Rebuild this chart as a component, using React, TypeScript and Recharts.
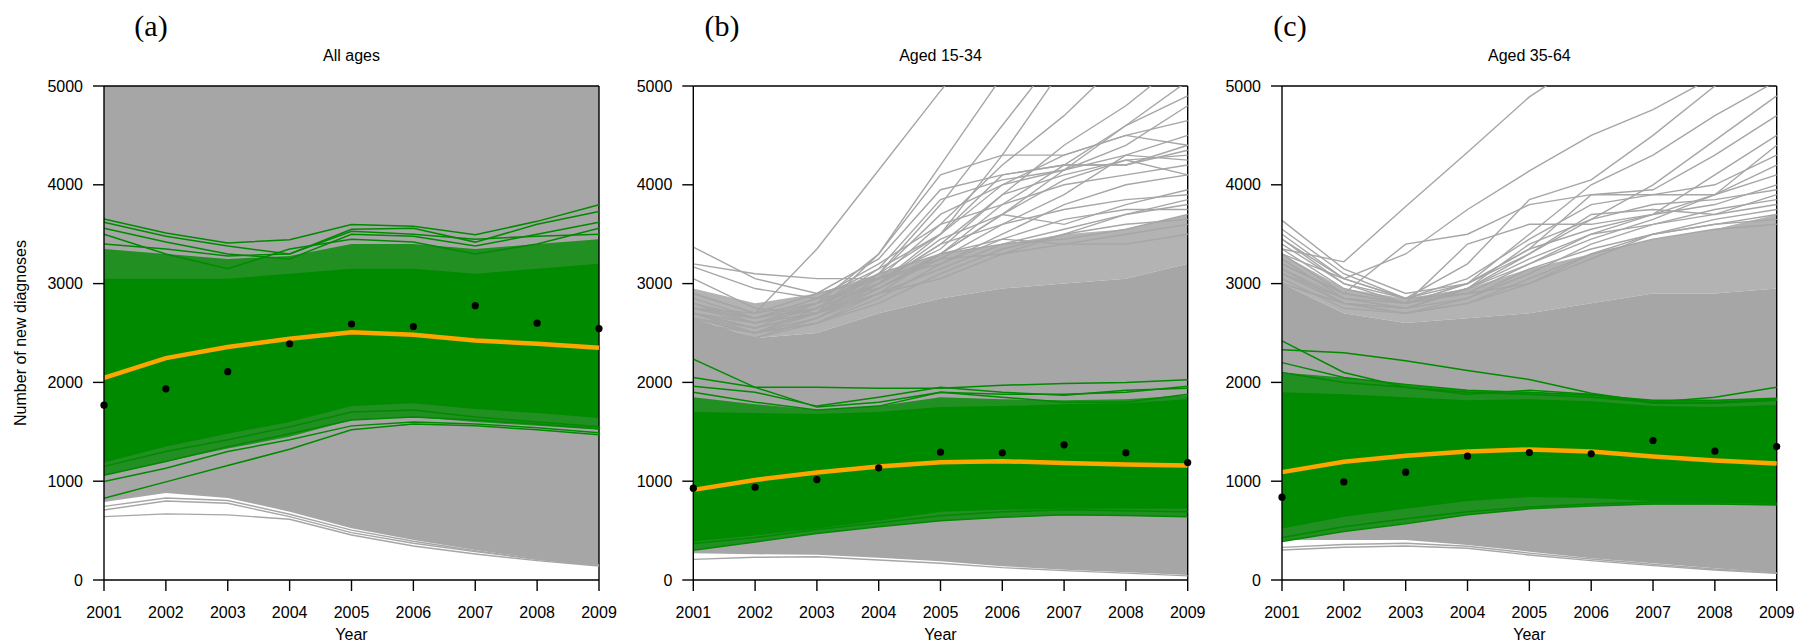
import { Area, ComposedChart, Line, ReferenceLine, XAxis, YAxis } from 'recharts'

const years = [2001, 2002, 2003, 2004, 2005, 2006, 2007, 2008, 2009]
const yTicks = [0, 1000, 2000, 3000, 4000, 5000]

// (a) All ages
const aMean = [2045, 2246, 2358, 2441, 2507, 2482, 2424, 2391, 2350]
const aObserved = [1769, 1935, 2109, 2391, 2591, 2566, 2777, 2599, 2545]
const aGrayLow = [790, 880, 830, 692, 524, 405, 304, 215, 150]
const aGrayHigh = [5000, 5000, 5000, 5000, 5000, 5000, 5000, 5000, 5000]
const aGreenMixLow = [1060, 1200, 1330, 1450, 1620, 1650, 1600, 1560, 1520]
const aGreenMixHigh = [3350, 3300, 3250, 3280, 3400, 3400, 3350, 3400, 3450]
const aGreenLow = [1190, 1350, 1480, 1600, 1760, 1790, 1730, 1690, 1640]
const aGreenHigh = [3050, 3050, 3050, 3100, 3150, 3150, 3100, 3150, 3200]
const aGrayLines = [
  [641, 669, 659, 615, 456, 344, 263, 196, 142],
  [709, 800, 777, 641, 480, 372, 287, 210, 148],
  [745, 830, 805, 665, 505, 392, 296, 213, 150],
]
const aGreenLines = [
  [3654, 3512, 3411, 3445, 3597, 3580, 3495, 3630, 3799],
  [3620, 3480, 3380, 3300, 3550, 3560, 3420, 3600, 3730],
  [3560, 3420, 3300, 3250, 3500, 3480, 3380, 3500, 3620],
  [3500, 3300, 3150, 3350, 3450, 3420, 3300, 3400, 3560],
  [3400, 3350, 3280, 3300, 3530, 3500, 3450, 3480, 3500],
  [828, 993, 1158, 1324, 1520, 1580, 1560, 1520, 1470],
  [996, 1131, 1300, 1420, 1560, 1600, 1580, 1540, 1490],
  [1060, 1200, 1350, 1480, 1620, 1650, 1620, 1580, 1530],
  [1150, 1300, 1420, 1550, 1700, 1720, 1650, 1600, 1550],
]

// (b) Aged 15-34
const bMean = [912, 1013, 1087, 1148, 1192, 1202, 1185, 1168, 1158]
const bObserved = [929, 939, 1016, 1135, 1294, 1287, 1368, 1287, 1189]
const bGrayLow = [270, 260, 255, 225, 190, 140, 105, 78, 50]
const bGrayHigh = [2650, 2450, 2500, 2700, 2850, 2950, 3000, 3050, 3200]
const bGrayMixHigh = [2950, 2800, 2900, 3100, 3300, 3400, 3500, 3550, 3700]
const bGreenMixLow = [300, 385, 470, 540, 600, 635, 655, 650, 640]
const bGreenMixHigh = [1850, 1780, 1720, 1760, 1850, 1830, 1820, 1830, 1870]
const bGreenLow = [390, 450, 520, 600, 690, 710, 720, 720, 720]
const bGreenHigh = [1700, 1690, 1680, 1700, 1750, 1760, 1780, 1790, 1830]
const bGrayLines = [
  [209, 230, 236, 203, 170, 125, 95, 70, 42],
  [2750, 2700, 3350, 4150, 4950, 5700, 6400, 7100, 7800],
  [2800, 2600, 2700, 3300, 4200, 5100, 6000, 6800, 7500],
  [2650, 2500, 2750, 3100, 3800, 4600, 5400, 6100, 6800],
  [2600, 2450, 2650, 3000, 3500, 4300, 5200, 5900, 6500],
  [2700, 2550, 2700, 3050, 3600, 4200, 4700, 5300, 5800],
  [2700, 2600, 2750, 3000, 3400, 3900, 4400, 4800, 5300],
  [2650, 2500, 2650, 2950, 3300, 3700, 4150, 4600, 5050],
  [2650, 2500, 2600, 2900, 3300, 3800, 4200, 4600, 4900],
  [2750, 2600, 2800, 3300, 4100, 4300, 4300, 4500, 4650],
  [2600, 2500, 2700, 3100, 3500, 4100, 4200, 4200, 4400],
  [2800, 2650, 2850, 3200, 3600, 3800, 4000, 4100, 4200],
  [2700, 2550, 2800, 3100, 3300, 3700, 3600, 3800, 3950],
  [3370, 3050, 2900, 3050, 3250, 3300, 3500, 3700, 3800],
  [3200, 3100, 3050, 3050, 3200, 3450, 3400, 3500, 3600],
  [3170, 2950, 2850, 2950, 3300, 3400, 3450, 3550, 3700],
  [3050, 2750, 2700, 2900, 3050, 3300, 3400, 3400, 3500],
  [2900, 2700, 2800, 3000, 3400, 3600, 3900, 4300, 4500],
  [2850, 2650, 2750, 3150, 3850, 4050, 4150, 4400, 4800],
  [2700, 2600, 2750, 3100, 3700, 4000, 4300, 4500, 4400],
  [2750, 2650, 2800, 3050, 3350, 3900, 4100, 4250, 4300],
  [2600, 2450, 2600, 2850, 3200, 3500, 3800, 4000, 4100],
  [2650, 2550, 2700, 2950, 3250, 3600, 3750, 3850, 3900],
  [2700, 2500, 2650, 2900, 3150, 3400, 3550, 3700, 3850],
  [2800, 2600, 2750, 3000, 3300, 3450, 3650, 3750, 3750],
  [2650, 2500, 2600, 2800, 3100, 3350, 3500, 3600, 3650],
  [2750, 2650, 2850, 3150, 3500, 4000, 4150, 4300, 4250],
  [2700, 2550, 2700, 3000, 3450, 3700, 4050, 4250, 4100],
  [2900, 2700, 2900, 3250, 3950, 4100, 4200, 4200, 4350],
]
const bGreenLines = [
  [2236, 1950, 1750, 1800, 1900, 1880, 1880, 1900, 1960],
  [2050, 1950, 1950, 1940, 1940, 1970, 1990, 2000, 2026],
  [1960, 1900, 1760, 1850, 1950, 1900, 1870, 1920, 1942],
  [1900, 1800, 1720, 1760, 1900, 1850, 1800, 1800, 1880],
  [300, 385, 470, 540, 600, 635, 660, 652, 641],
  [370, 430, 510, 580, 650, 690, 710, 700, 690],
]

// (c) Aged 35-64
const cMean = [1092, 1196, 1258, 1300, 1321, 1300, 1250, 1209, 1180]
const cObserved = [838, 993, 1091, 1253, 1290, 1277, 1412, 1304, 1351]
const cGrayLow = [405, 405, 405, 355, 287, 220, 169, 118, 74]
const cGrayHigh = [3000, 2700, 2600, 2650, 2700, 2800, 2900, 2900, 2950]
const cGrayMixHigh = [3300, 2950, 2850, 2950, 3150, 3300, 3450, 3550, 3700]
const cGreenMixLow = [390, 490, 575, 660, 720, 750, 765, 765, 760]
const cGreenMixHigh = [2100, 2050, 1980, 1920, 1900, 1880, 1820, 1820, 1840]
const cGreenLow = [520, 640, 720, 800, 840, 830, 800, 790, 770]
const cGreenHigh = [1900, 1880, 1850, 1820, 1830, 1810, 1760, 1750, 1770]
const cGrayLines = [
  [304, 331, 344, 321, 253, 196, 145, 101, 68],
  [330, 360, 372, 342, 272, 212, 160, 112, 72],
  [3350, 3220, 3780, 4330, 4890, 5300, 5600, 5900, 6200],
  [3300, 3050, 3300, 3750, 4140, 4500, 4760, 5100, 5400],
  [3500, 3050, 2850, 3200, 3850, 4050, 4500, 5000, 5300],
  [3200, 2900, 2800, 3000, 3500, 4000, 4300, 4700, 5050],
  [3100, 2800, 2750, 2950, 3300, 3650, 4000, 4450, 4900],
  [3640, 3150, 2900, 3000, 3350, 3900, 3950, 4300, 4700],
  [3450, 3000, 2800, 3400, 3600, 3600, 3700, 4100, 4500],
  [3300, 2900, 3400, 3500, 3800, 3900, 3900, 3900, 4100],
  [3100, 2850, 2800, 2900, 3200, 3500, 3700, 3800, 4000],
  [3000, 2800, 2750, 2850, 3100, 3400, 3600, 3700, 3900],
  [3400, 3000, 2850, 3000, 3300, 3700, 3750, 3700, 3800],
  [3550, 3100, 2850, 2900, 3000, 3300, 3500, 3600, 3700],
  [3250, 2850, 2750, 2950, 3250, 3500, 3600, 3750, 3850],
  [3150, 2800, 2700, 2850, 3150, 3350, 3500, 3600, 3650],
  [3350, 2950, 2800, 2950, 3400, 3650, 3800, 3850, 3950],
  [3050, 2750, 2700, 2800, 3050, 3300, 3450, 3550, 3600],
  [3200, 2900, 2800, 3000, 3350, 3550, 3700, 3900, 4200],
  [3450, 3050, 2850, 3050, 3450, 3800, 3900, 4000, 4300],
  [3000, 2800, 2700, 2800, 3000, 3250, 3500, 3650, 3750],
  [3150, 2850, 2750, 2950, 3200, 3450, 3650, 3900, 4400],
]
const cGreenLines = [
  [2420, 2100, 1950, 1900, 1880, 1850, 1800, 1800, 1830],
  [2330, 2300, 2220, 2120, 2030, 1890, 1800, 1850, 1950],
  [2200, 2050, 1980, 1920, 1900, 1870, 1820, 1820, 1840],
  [2100, 2000, 1950, 1880, 1920, 1880, 1790, 1790, 1820],
  [390, 490, 570, 660, 720, 750, 770, 770, 760],
  [430, 540, 620, 690, 740, 770, 790, 790, 780],
]

const FONT = '"Liberation Sans", Arial, sans-serif'
const SERIF = '"Liberation Serif", "Times New Roman", serif'
const GRAY = '#a6a6a6'
const GREEN = '#008a00'
const W = 1796
const H = 642
const PLOT_TOP = 86
const PLOT_BOTTOM = 580
const Y_AXIS_W = 60
const X_AXIS_H = 40

interface PanelSpec {
  grayLow: number[]
  grayHigh: number[]
  grayMixHigh?: number[]
  greenMixLow: number[]
  greenMixHigh: number[]
  greenLow: number[]
  greenHigh: number[]
  grayLines: number[][]
  greenLines: number[][]
  mean: number[]
  observed: number[]
}

function buildRows(p: PanelSpec) {
  return years.map((year, i) => {
    const row: Record<string, unknown> = {
      year,
      grayBand: [p.grayLow[i], p.grayHigh[i]],
      greenMix: [p.greenMixLow[i], p.greenMixHigh[i]],
      greenBand: [p.greenLow[i], p.greenHigh[i]],
      mean: p.mean[i],
      observed: p.observed[i],
    }
    if (p.grayMixHigh) row.grayMix = [p.grayHigh[i], p.grayMixHigh[i]]
    p.grayLines.forEach((l, j) => (row[`gray${j}`] = l[i]))
    p.greenLines.forEach((l, j) => (row[`green${j}`] = l[i]))
    return row
  })
}

function Panel({ spec, left, right }: { spec: PanelSpec; left: number; right: number }) {
  const rows = buildRows(spec)
  return (
    <div style={{ position: 'absolute', left: 0, top: 0 }}>
      <ComposedChart
        width={W}
        height={H}
        data={rows}
        margin={{ top: PLOT_TOP, bottom: H - PLOT_BOTTOM - X_AXIS_H, left: left - Y_AXIS_W, right: W - right }}
      >
        <XAxis
          type="number"
          dataKey="year"
          domain={[2001, 2009]}
          ticks={years}
          interval={0}
          height={X_AXIS_H}
          tickSize={11}
          tickMargin={16}
          axisLine={{ stroke: '#000', strokeWidth: 1.4 }}
          tickLine={{ stroke: '#000', strokeWidth: 1.4 }}
          tick={{ fontSize: 16, fill: '#000', fontFamily: FONT }}
        />
        <YAxis
          type="number"
          domain={[0, 5000]}
          ticks={yTicks}
          interval={0}
          allowDataOverflow
          width={Y_AXIS_W}
          tickSize={11}
          tickMargin={10}
          axisLine={{ stroke: '#000', strokeWidth: 1.4 }}
          tickLine={{ stroke: '#000', strokeWidth: 1.4 }}
          tick={{ fontSize: 16, fill: '#000', fontFamily: FONT }}
        />
        <ReferenceLine y={5000} stroke="#000" strokeWidth={1.4} />
        <ReferenceLine x={2009} stroke="#000" strokeWidth={1.4} />
        <Area dataKey="grayBand" type="linear" stroke="none" fill={GRAY} fillOpacity={1} dot={false} activeDot={false} isAnimationActive={false} />
        {spec.grayMixHigh && (
          <Area dataKey="grayMix" type="linear" stroke="none" fill={GRAY} fillOpacity={0.85} dot={false} activeDot={false} isAnimationActive={false} />
        )}
        {spec.grayLines.map((_, j) => (
          <Line key={`g${j}`} dataKey={`gray${j}`} type="linear" stroke={GRAY} strokeWidth={1.4} dot={false} activeDot={false} isAnimationActive={false} />
        ))}
        <Area dataKey="greenMix" type="linear" stroke="none" fill={GREEN} fillOpacity={0.8} dot={false} activeDot={false} isAnimationActive={false} />
        <Area dataKey="greenBand" type="linear" stroke="none" fill={GREEN} fillOpacity={1} dot={false} activeDot={false} isAnimationActive={false} />
        {spec.greenLines.map((_, j) => (
          <Line key={`gr${j}`} dataKey={`green${j}`} type="linear" stroke={GREEN} strokeWidth={1.5} dot={false} activeDot={false} isAnimationActive={false} />
        ))}
        <Line dataKey="mean" type="linear" stroke="#ffa500" strokeWidth={4.5} dot={false} activeDot={false} isAnimationActive={false} />
        <Line dataKey="observed" stroke="none" dot={{ r: 3.6, fill: '#000', stroke: 'none' }} activeDot={false} isAnimationActive={false} />
      </ComposedChart>
    </div>
  )
}

const text = (left: number, top: number, size: number, family: string): React.CSSProperties => ({
  position: 'absolute',
  left,
  top,
  fontSize: size,
  lineHeight: `${size}px`,
  fontFamily: family,
  whiteSpace: 'nowrap',
  transform: 'translateX(-50%)',
  color: '#000',
})

const panels = [
  {
    letter: '(a)', letterX: 151, title: 'All ages', left: 104, right: 599,
    spec: { grayLow: aGrayLow, grayHigh: aGrayHigh, greenMixLow: aGreenMixLow, greenMixHigh: aGreenMixHigh, greenLow: aGreenLow, greenHigh: aGreenHigh, grayLines: aGrayLines, greenLines: aGreenLines, mean: aMean, observed: aObserved },
  },
  {
    letter: '(b)', letterX: 722, title: 'Aged 15-34', left: 693.3, right: 1187.7,
    spec: { grayLow: bGrayLow, grayHigh: bGrayHigh, grayMixHigh: bGrayMixHigh, greenMixLow: bGreenMixLow, greenMixHigh: bGreenMixHigh, greenLow: bGreenLow, greenHigh: bGreenHigh, grayLines: bGrayLines, greenLines: bGreenLines, mean: bMean, observed: bObserved },
  },
  {
    letter: '(c)', letterX: 1290, title: 'Aged 35-64', left: 1282, right: 1776.7,
    spec: { grayLow: cGrayLow, grayHigh: cGrayHigh, grayMixHigh: cGrayMixHigh, greenMixLow: cGreenMixLow, greenMixHigh: cGreenMixHigh, greenLow: cGreenLow, greenHigh: cGreenHigh, grayLines: cGrayLines, greenLines: cGreenLines, mean: cMean, observed: cObserved },
  },
]

export default function App() {
  return (
    <div style={{ position: 'fixed', left: 0, top: 0, width: W, height: H, background: '#fff', overflow: 'hidden' }}>
      {panels.map((p) => (
        <Panel key={p.letter} spec={p.spec} left={p.left} right={p.right} />
      ))}
      {panels.map((p) => (
        <div key={`t${p.letter}`}>
          <div style={text(p.letterX, 11, 30, SERIF)}>{p.letter}</div>
          <div style={text((p.left + p.right) / 2, 48, 16, FONT)}>{p.title}</div>
          <div style={text((p.left + p.right) / 2, 626.5, 16, FONT)}>Year</div>
        </div>
      ))}
      <div
        style={{
          position: 'absolute',
          left: 20.5,
          top: 333,
          fontSize: 16,
          lineHeight: '16px',
          fontFamily: FONT,
          whiteSpace: 'nowrap',
          transform: 'translate(-50%, -50%) rotate(-90deg)',
        }}
      >
        Number of new diagnoses
      </div>
    </div>
  )
}
